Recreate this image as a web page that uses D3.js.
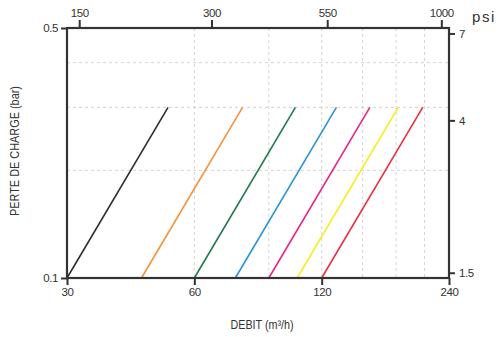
<!DOCTYPE html>
<html>
<head>
<meta charset="utf-8">
<script src="https://cdn.jsdelivr.net/npm/d3@7"></script>
<style>
  html, body { margin: 0; padding: 0; background: #fff; }
  svg { display: block; }
  .axis text { font-family: "Liberation Sans Narrow", "Arial Narrow", "Liberation Sans", sans-serif; font-size: 11.5px; fill: #333; letter-spacing: -0.4px; }
  .title { font-family: "Liberation Sans Narrow", "Arial Narrow", "Liberation Sans", sans-serif; font-size: 12.5px; fill: #333; }
</style>
</head>
<body>
<svg id="chart" width="503" height="337"></svg>
<script>
// Head-loss curves: flow (m³/h) at the low and high pressure points of each model
const lowPressure = 0.1;   // bar
const highPressure = 0.3;  // bar
const flowAtLow  = [30, 45, 60, 75, 90, 105, 120];
const flowAtHigh = [52, 78, 104, 130, 156, 182, 208];
const lineColors = ["#2e2e2e", "#f7923a", "#1f7a4f", "#2a95d4", "#e8248c", "#f7ee1c", "#e8313c"];

// Axis ticks
const flowTicks = [30, 60, 120, 240];            // m³/h, bottom
const gpmTicks = [150, 300, 550, 1000];          // top
const barTicks = [0.1, 0.5];                      // left
const psiTicks = [1.5, 4, 7];                     // right
const flowGrid = [60, 90, 120, 150, 180, 210];
const barGrid = [0.2, 0.3, 0.4];

const svg = d3.select("#chart");
const margin = { top: 28, right: 54, bottom: 59, left: 67 };
const W = 503 - margin.left - margin.right;
const H = 337 - margin.top - margin.bottom;
const g = svg.append("g").attr("transform", `translate(${margin.left},${margin.top})`);

const x = d3.scaleLog().domain([30, 240]).range([0, W]);
const xTop = d3.scaleLog().domain([140.7, 1041]).range([0, W]);
const y = d3.scaleLog().domain([0.1, 0.5]).range([H, 0]);
const yPsi = d3.scaleLog().domain([0.1 * 14.5, 0.5 * 14.5]).range([H, 0]);

// dashed grid
const grid = g.append("g").attr("stroke", "#c8c8c8").attr("stroke-width", 0.8).attr("stroke-dasharray", "3,3");
grid.selectAll("line.v").data(flowGrid).join("line")
  .attr("x1", d => x(d)).attr("x2", d => x(d)).attr("y1", 0).attr("y2", H);
grid.selectAll("line.h").data(barGrid).join("line")
  .attr("x1", 0).attr("x2", W).attr("y1", d => y(d)).attr("y2", d => y(d));

// curves
const line = d3.line().x(d => x(d[0])).y(d => y(d[1]));
g.selectAll("path.curve").data(flowAtLow.map((f, i) => [[f, lowPressure], [flowAtHigh[i], highPressure]]))
  .join("path").attr("class", "curve")
  .attr("d", line).attr("fill", "none")
  .attr("stroke", (d, i) => lineColors[i]).attr("stroke-width", 1.6);

// axes
function styleAxis(sel) {
  sel.select(".domain").remove();
  sel.selectAll(".tick line").attr("stroke", "#333").attr("stroke-width", 2);
}
g.append("g").attr("class", "axis").attr("transform", `translate(0,${H})`)
  .call(d3.axisBottom(x).tickValues(flowTicks).tickFormat(d3.format("d")).tickSize(7).tickSizeOuter(0).tickPadding(3))
  .call(styleAxis);
g.append("g").attr("class", "axis")
  .call(d3.axisTop(xTop).tickValues(gpmTicks).tickFormat(d3.format("d")).tickSize(8).tickSizeOuter(0).tickPadding(3))
  .call(styleAxis);
g.append("g").attr("class", "axis")
  .call(d3.axisLeft(y).tickValues(barTicks).tickFormat(d3.format(".1f")).tickSize(6).tickSizeOuter(0).tickPadding(3))
  .call(styleAxis);
g.append("g").attr("class", "axis").attr("transform", `translate(${W},0)`)
  .call(d3.axisRight(yPsi).tickValues(psiTicks).tickFormat(d => String(d)).tickSize(6).tickSizeOuter(0).tickPadding(4))
  .call(styleAxis);

// frame
g.append("rect").attr("x", 0).attr("y", 0).attr("width", W).attr("height", H)
  .attr("fill", "none").attr("stroke", "#333").attr("stroke-width", 2.2);

// titles (condensed to the narrow lettering of the axis captions)
svg.append("text").attr("class", "title")
  .attr("transform", `translate(19,${margin.top + H / 2 - 2}) rotate(-90)`)
  .attr("text-anchor", "middle")
  .attr("textLength", 130).attr("lengthAdjust", "spacingAndGlyphs")
  .text("PERTE DE CHARGE (bar)");
svg.append("text").attr("class", "title")
  .attr("x", 262).attr("y", 329).attr("text-anchor", "middle")
  .attr("textLength", 63).attr("lengthAdjust", "spacingAndGlyphs")
  .text("DEBIT (m³/h)");
svg.append("text").attr("class", "title")
  .attr("x", 472).attr("y", 22).style("font-size", "15px").style("letter-spacing", "1.6px").text("psi");
</script>
</body>
</html>
